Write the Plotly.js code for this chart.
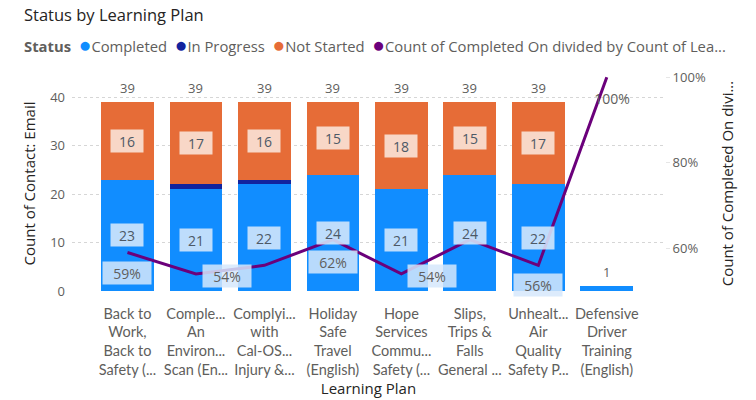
<!DOCTYPE html>
<html><head><meta charset="utf-8">
<script src="https://cdn.plot.ly/plotly-3.0.1.min.js"></script>
<style>body{margin:0;background:#fff}#chart{width:756px;height:400px}</style>
</head><body><div id="chart"></div>
<script>
const categories = ["Back to Work, Back to Safety (...", "Comple... An Environ... Scan (En...", "Complyi... with Cal-OS... Injury &...", "Holiday Safe Travel (English)", "Hope Services Commu... Safety (...", "Slips, Trips & Falls General ...", "Unhealt... Air Quality Safety P...", "Defensive Driver Training (English)"];
const tickLabels = ["Back to<br>Work,<br>Back to<br>Safety (...", "Comple...<br>An<br>Environ...<br>Scan (En...", "Complyi...<br>with<br>Cal-OS...<br>Injury &...", "Holiday<br>Safe<br>Travel<br>(English)", "Hope<br>Services<br>Commu...<br>Safety (...", "Slips,<br>Trips &<br>Falls<br>General ...", "Unhealt...<br>Air<br>Quality<br>Safety P...", "Defensive<br>Driver<br>Training<br>(English)"];
const completed = [23, 21, 22, 24, 21, 24, 22, 1];
const inProgress = [0, 1, 1, 0, 0, 0, 0, 0];
const notStarted = [16, 17, 16, 15, 18, 15, 17, 0];
const totals = [39, 39, 39, 39, 39, 39, 39, 1];
const pctCompleted = [0.59, 0.54, 0.56, 0.62, 0.54, 0.62, 0.56, 1.00];
const pctLabels = ["59%", "54%", "", "62%", "54%", "", "56%", "100%"];
const leftTicks = [0, 10, 20, 30, 40];
const rightTicks = [0.6, 0.8, 1.0];
const legendItems = ["Completed", "In Progress", "Not Started", "Count of Completed On divided by Count of Lea..."];

// styling (label placement offsets in pixels)
const pctDx = [0, 31, 0, 0, 31, 0, 0, 5];
const pctDy = [-20, -2, 0, -22, -2, 0, -20, -21];

const FONT = "Segoe UI, Open Sans, sans-serif";
const TICKFONT = "Segoe UI, Lato, sans-serif";
const C_BLUE = "#118DFF", C_DARK = "#12239E", C_ORANGE = "#E66C37", C_PURPLE = "#6B007B";
const legendColors = [C_BLUE, C_DARK, C_ORANGE, C_PURPLE];

const traces = [
  {type: "bar", name: "Completed", x: categories, y: completed, marker: {color: C_BLUE}, showlegend: false},
  {type: "bar", name: "In Progress", x: categories, y: inProgress, marker: {color: C_DARK}, showlegend: false},
  {type: "bar", name: "Not Started", x: categories, y: notStarted, marker: {color: C_ORANGE}, showlegend: false},
  {type: "scatter", mode: "lines", name: "Count of Completed On divided by Count of Learning Plan", x: categories, y: pctCompleted, yaxis: "y2", line: {color: C_PURPLE, width: 3}, showlegend: false}
];

const annotations = [];
categories.forEach((c, i) => {
  annotations.push({x: c, y: totals[i], yref: "y", text: String(totals[i]), showarrow: false, yanchor: "bottom", yshift: 3, font: {family: FONT, size: 13, color: "#605e5c"}});
  if (completed[i] > 1) {
    annotations.push({x: c, y: completed[i] / 2, yref: "y", text: String(completed[i]), showarrow: false, bgcolor: "rgba(214,232,252,0.88)", width: 28, height: 18, borderpad: 2, font: {family: FONT, size: 14, color: "#4d5966"}});
  }
  if (notStarted[i] > 0) {
    const base = completed[i] + inProgress[i];
    annotations.push({x: c, y: base + notStarted[i] / 2, yref: "y", text: String(notStarted[i]), showarrow: false, bgcolor: "rgba(250,225,212,0.92)", width: 28, height: 18, borderpad: 2, font: {family: FONT, size: 14, color: "#4d5966"}});
  }
  if (pctLabels[i]) {
    annotations.push({x: c, y: pctCompleted[i], yref: "y2", text: pctLabels[i], showarrow: false, xshift: pctDx[i], yshift: pctDy[i], bgcolor: i === 7 ? "rgba(255,255,255,0)" : "rgba(214,232,252,0.85)", width: i === 7 ? 36 : 44, height: 18, borderpad: 2, font: {family: FONT, size: 14, color: "#605e5c"}});
  }
});

// title and legend
annotations.push({xref: "paper", yref: "paper", x: -0.084, y: 1.0, xanchor: "left", yanchor: "bottom", yshift: 48, text: "Status by Learning Plan", showarrow: false, font: {family: FONT, size: 16.5, color: "#252423"}});
const legendText = "<b>Status</b>&#160;&#160;" + legendItems.map((t, i) => `<span style="color:${legendColors[i]};font-size:21px">●</span>${t}`).join("&#160;&#160;");
annotations.push({xref: "paper", yref: "paper", x: -0.084, y: 1.0, xanchor: "left", yanchor: "bottom", yshift: 16, text: legendText, showarrow: false, font: {family: FONT, size: 14.8, color: "#605e5c"}});

const layout = {
  width: 756, height: 400,
  margin: {l: 72, r: 91, t: 76, b: 109},
  paper_bgcolor: "#fff", plot_bgcolor: "#fff",
  barmode: "stack", bargap: 0.23,
  showlegend: false,
  font: {family: FONT, color: "#605e5c"},
  xaxis: {
    type: "category", range: [-0.81, 7.85], tickvals: categories, ticktext: tickLabels,
    tickfont: {family: TICKFONT, size: 14.5, color: "#605e5c"}, ticklabelstandoff: 12,
    showgrid: false, zeroline: false, showline: false, ticks: "",
    title: {text: "Learning Plan", font: {family: FONT, size: 15, color: "#252423"}, standoff: 2}
  },
  yaxis: {
    range: [0, 44.4], tickvals: leftTicks, showgrid: true, gridcolor: "#d6d6d6", griddash: "dot", gridwidth: 1, zeroline: false,
    tickfont: {family: FONT, size: 13, color: "#605e5c"}, ticklabelstandoff: 6,
    title: {text: "Count of Contact: Email", font: {family: FONT, size: 15, color: "#252423"}, standoff: 10}
  },
  yaxis2: {
    overlaying: "y", side: "right", range: [0.5, 1.003], tickvals: rightTicks, tickformat: ".0%", showgrid: false, zeroline: false,
    tickfont: {family: FONT, size: 13, color: "#605e5c"}, ticks: "outside", ticklen: 4, tickcolor: "#e6e6e6",
    title: {text: "Count of Completed On divi...", font: {family: FONT, size: 15, color: "#252423"}, standoff: 17}
  },
  annotations: annotations
};

Plotly.newPlot("chart", traces, layout, {displayModeBar: false, staticPlot: true});
</script>
</body></html>
